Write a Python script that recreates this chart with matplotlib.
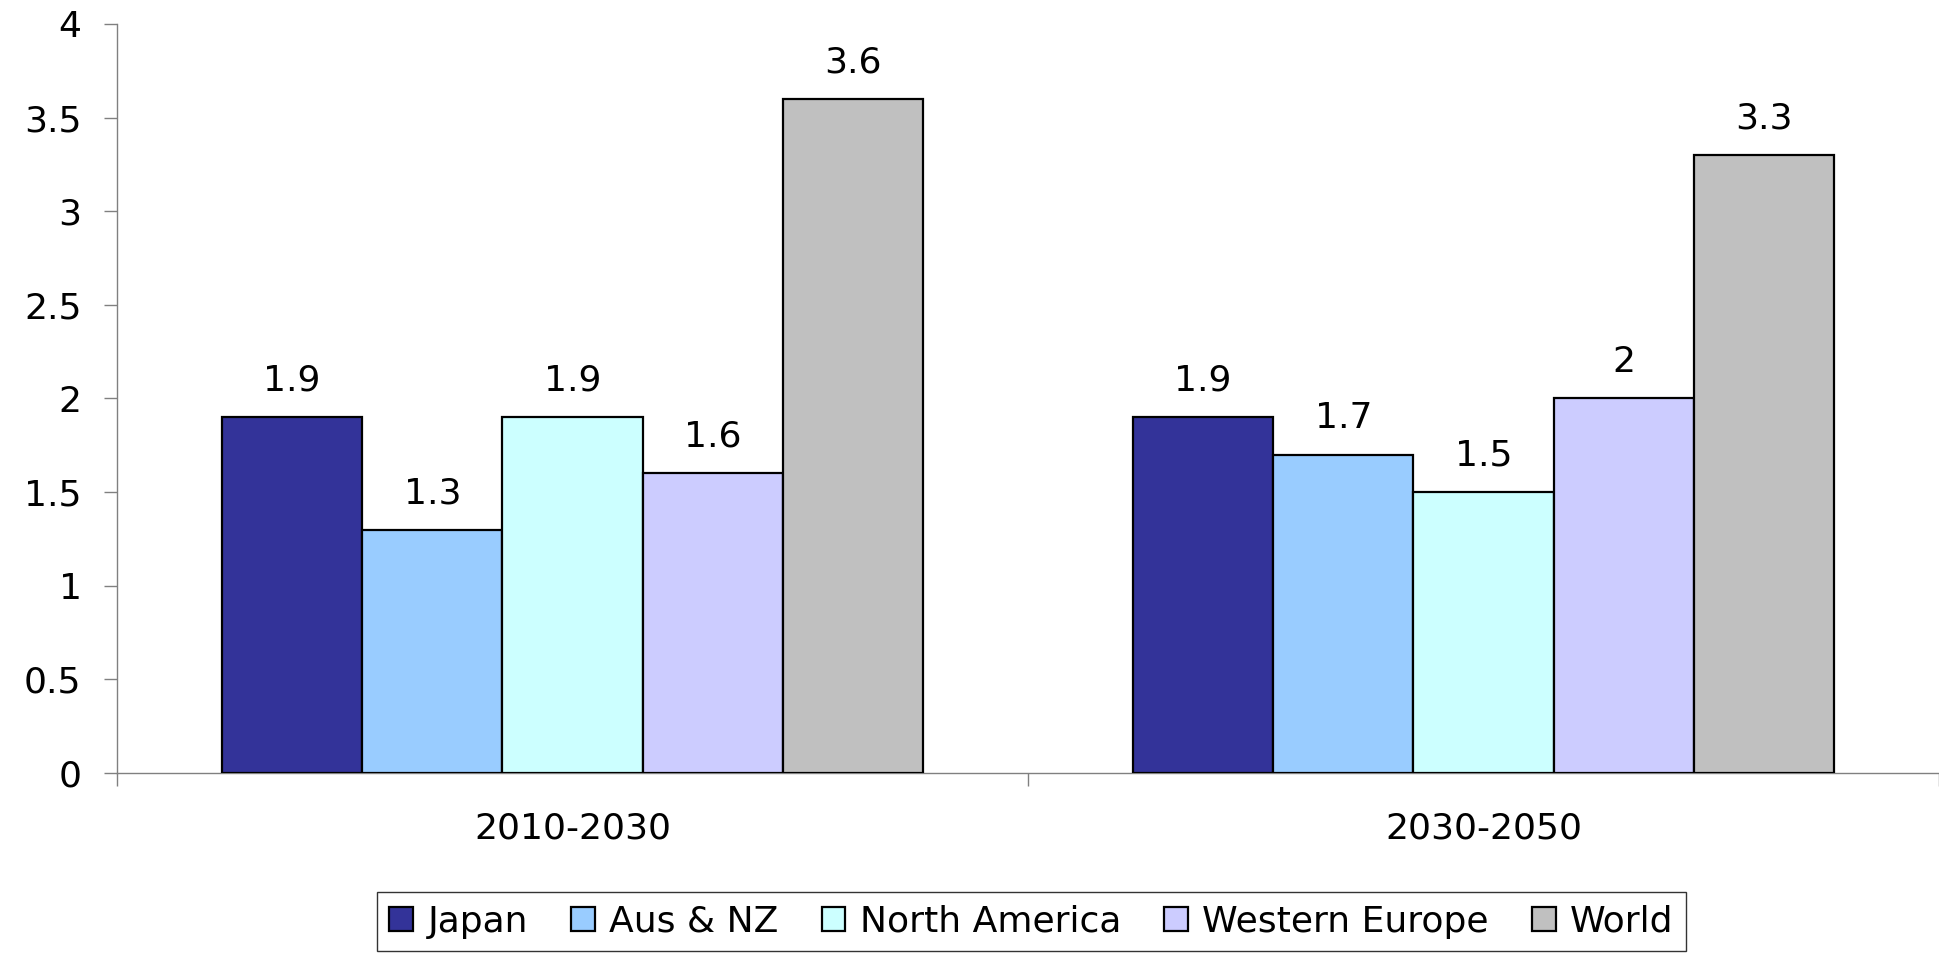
import matplotlib
matplotlib.use("Agg")
import matplotlib.pyplot as plt
import numpy as np

# data
periods = ["2010-2030", "2030-2050"]
regions = ["Japan", "Aus & NZ", "North America", "Western Europe", "World"]
japan = [1.9, 1.9]
aus_nz = [1.3, 1.7]
north_america = [1.9, 1.5]
western_europe = [1.6, 2.0]
world = [3.6, 3.3]
series = [japan, aus_nz, north_america, western_europe, world]
colors = ["#333399", "#99CCFF", "#CCFFFF", "#CCCCFF", "#C0C0C0"]

plt.rcParams["font.family"] = ["DejaVu Sans"]
fs = 26

fig = plt.figure(figsize=(19.39, 9.55), dpi=100)
ax = fig.add_axes([0.0603, 0.1906, 0.9397, 0.7843])

x = np.arange(len(periods))
width = 1 / 6.5
for i, (vals, name, col) in enumerate(zip(series, regions, colors)):
    pos = x + (i - 2) * width
    bars = ax.bar(pos, vals, width, color=col, edgecolor="black",
                  linewidth=1.6, label=name, zorder=3)
    for b, v in zip(bars, vals):
        ax.annotate(f"{v:g}", (b.get_x() + b.get_width() / 2, v),
                    xytext=(0, 14), textcoords="offset points",
                    ha="center", va="bottom", fontsize=fs)

ax.set_xlim(-0.5, 1.5)
ax.set_ylim(0, 4)
ax.set_yticks(np.arange(0, 4.01, 0.5))
ax.set_yticklabels([f"{t:g}" for t in np.arange(0, 4.01, 0.5)])
ax.tick_params(axis="y", labelsize=fs, length=9.5, width=1,
               color="#808080", pad=16)

ax.set_xticks(x)
ax.set_xticklabels(periods)
ax.set_xticks([-0.5, 0.5, 1.5], minor=True)
ax.tick_params(axis="x", which="major", length=0, labelsize=fs, pad=28)
ax.tick_params(axis="x", which="minor", length=9, width=1, color="#808080")

for side in ["top", "right"]:
    ax.spines[side].set_visible(False)
for side in ["left", "bottom"]:
    ax.spines[side].set_color("#808080")
    ax.spines[side].set_linewidth(1)

leg = fig.legend(loc="upper center", bbox_to_anchor=(0.532, 0.066),
                 ncol=5, fontsize=fs, frameon=True, fancybox=False,
                 edgecolor="black", handlelength=0.65, handleheight=0.65,
                 handletextpad=0.4, columnspacing=1.2, borderpad=0.35,
                 borderaxespad=0)
leg.get_frame().set_linewidth(1)

fig.savefig("out.png", dpi=100)
